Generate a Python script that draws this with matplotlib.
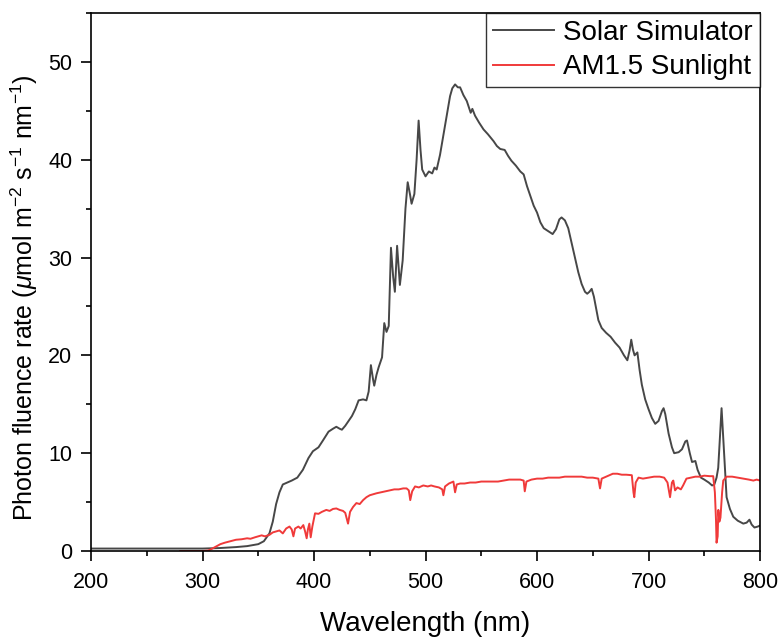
import matplotlib
matplotlib.use('Agg')
import matplotlib.pyplot as plt
from matplotlib.ticker import MultipleLocator

plt.rcParams['font.family'] = ['Liberation Sans', 'DejaVu Sans']
plt.rcParams['mathtext.fontset'] = 'custom'
plt.rcParams['mathtext.rm'] = 'Liberation Sans'
plt.rcParams['mathtext.it'] = 'Liberation Sans:italic'

# Solar simulator spectrum
sim_wl = [200, 250, 280, 300, 315, 330, 340, 350, 355, 360, 363, 366, 369, 372, 376, 380,
          385, 390, 395, 399, 404, 408, 413, 417, 420, 423, 425, 428, 431, 434, 437, 440,
          444, 447, 449, 451, 453, 454, 456, 458, 461, 463, 465, 467, 469, 471, 472.5, 474.5,
          477, 479.5, 482, 484, 486, 487.5, 490, 492, 493.8, 495.5, 497, 500, 503, 506, 508,
          510, 513, 516, 519, 522, 524, 526.5, 529, 531, 534, 537, 539, 540.5, 542, 544.4,
          548, 552, 556, 561, 564, 567, 571, 574, 577, 581, 585, 588, 591, 594, 597, 600,
          603, 606, 610, 614, 617, 620, 622, 625, 628, 631, 634, 637, 640, 643, 645, 647,
          649, 651, 653, 655, 658, 662, 666, 670, 674, 678, 681, 683, 684.5, 686, 687.5, 690,
          692, 694, 697, 700, 703, 706, 709, 712, 713.5, 715, 718, 721, 723, 727, 730, 733,
          734.5, 737, 739, 742, 744, 747, 750, 754, 757, 759, 761, 762.5, 764, 765.5, 767,
          768.5, 770, 773, 776, 780, 785, 788, 790.5, 792.5, 795, 798, 800]
sim_val = [0.25, 0.25, 0.25, 0.25, 0.3, 0.4, 0.5, 0.7, 1.0, 1.8, 3.0, 4.8, 6.0, 6.8, 7.0, 7.2,
           7.5, 8.3, 9.5, 10.2, 10.6, 11.3, 12.2, 12.5, 12.7, 12.5, 12.4, 12.8, 13.3, 13.8, 14.5, 15.4,
           15.5, 15.4, 16.3, 19.0, 17.5, 16.9, 18.0, 18.8, 19.8, 23.3, 22.4, 23.0, 31.0, 28.0, 26.5, 31.2,
           27.2, 29.7, 35.0, 37.7, 36.5, 35.5, 36.5, 40.0, 44.0, 41.0, 39.0, 38.3, 38.8, 38.6, 39.2,
           39.0, 40.5, 42.5, 44.5, 46.5, 47.3, 47.7, 47.4, 47.4, 46.6, 46.0, 45.3, 44.8, 45.2, 44.5,
           43.8, 43.1, 42.6, 41.9, 41.4, 41.1, 41.0, 40.4, 39.9, 39.4, 38.8, 38.5, 37.3, 36.3, 35.3, 34.6,
           33.6, 33.0, 32.7, 32.4, 32.9, 33.9, 34.1, 33.8, 33.0, 31.5, 30.0, 28.5, 27.3, 26.5, 26.3, 26.5,
           26.8, 26.0, 24.8, 23.6, 22.8, 22.3, 21.9, 21.3, 20.8, 20.0, 19.5, 20.5, 21.6, 20.6, 20.0, 20.3,
           18.5, 17.0, 15.5, 14.5, 13.6, 13.0, 13.3, 14.3, 14.6, 14.0, 12.0, 10.6, 10.0, 10.1, 10.4, 11.2,
           11.3, 10.0, 9.1, 9.2, 8.3, 7.5, 7.3, 7.0, 6.7, 6.8, 7.5, 8.5, 11.5, 14.6, 11.5,
           8.5, 5.5, 4.3, 3.5, 3.1, 2.8, 2.9, 3.2, 2.7, 2.4, 2.5, 2.6]

# AM1.5 sunlight spectrum
sun_wl = [280, 290, 300, 305, 308, 312, 316, 320, 325, 330, 335, 340, 343, 347, 350, 353, 356,
          360, 363, 366, 369, 372, 375, 378, 380, 381.5, 383, 386, 388, 390.4, 392, 393.4, 394.5,
          395.8, 397, 398.5, 400.9, 404, 407, 411, 414, 417, 420, 423, 426, 428, 430.5, 432.3,
          435, 438, 441, 444, 447, 450, 453, 456, 460, 464, 468, 472, 476, 480, 483, 485, 486.3,
          488, 490.6, 494, 498, 502, 505, 508, 512, 515, 516, 517.5, 521, 525, 526.5, 528, 531,
          535, 540, 545, 550, 555, 560, 565, 570, 575, 580, 585, 588, 589, 590.5, 595, 600, 605,
          610, 615, 620, 625, 630, 635, 640, 645, 650, 655, 656.5, 658, 662, 668, 672, 676, 680,
          685, 686.5, 687.2, 688.5, 691, 695, 700, 705, 710, 714, 717, 719.3, 721, 722.2, 723.8,
          726, 729, 731, 734, 738, 742, 746, 750, 755, 758, 759.5, 760.5, 761, 762, 762.6, 763.5,
          764.5, 766, 767, 770, 775, 780, 785, 790, 794, 797, 800]
sun_val = [0.0, 0.0, 0.0, 0.05, 0.2, 0.45, 0.7, 0.85, 1.0, 1.15, 1.2, 1.3, 1.25, 1.4, 1.5, 1.6, 1.5,
           1.65, 1.9, 2.0, 2.1, 1.8, 2.3, 2.5, 2.2, 1.5, 2.3, 2.5, 2.3, 2.65, 2.0, 1.3, 2.2,
           2.8, 1.4, 2.5, 3.85, 3.8, 4.0, 4.2, 4.1, 4.3, 4.35, 4.2, 4.1, 3.9, 2.8, 4.0,
           4.5, 4.9, 4.8, 5.2, 5.5, 5.7, 5.8, 5.9, 6.0, 6.1, 6.2, 6.3, 6.3, 6.4, 6.4, 6.2, 5.2,
           6.1, 6.6, 6.5, 6.7, 6.6, 6.7, 6.6, 6.5, 6.3, 5.7, 6.6, 6.9, 7.1, 6.0, 6.8, 6.9,
           6.9, 7.0, 7.0, 7.1, 7.1, 7.1, 7.1, 7.2, 7.3, 7.3, 7.3, 7.2, 6.1, 7.1, 7.3, 7.4, 7.4,
           7.5, 7.5, 7.5, 7.6, 7.6, 7.6, 7.6, 7.5, 7.5, 7.4, 6.4, 7.4, 7.6, 7.9, 7.9, 7.8, 7.8,
           7.75, 6.0, 5.5, 7.0, 7.5, 7.4, 7.5, 7.6, 7.6, 7.5, 7.0, 5.5, 7.0, 7.2, 6.2,
           6.5, 6.3, 6.7, 7.4, 7.5, 7.6, 7.6, 7.7, 7.65, 7.65, 6.0, 3.2, 0.85, 1.5, 4.2, 3.0,
           3.4, 6.0, 7.2, 7.6, 7.6, 7.5, 7.4, 7.3, 7.2, 7.3, 7.2]

fig = plt.figure(figsize=(7.8, 6.37), dpi=100)
ax = fig.add_axes([0.1167, 0.135, 0.8577, 0.8446])

ax.plot(sim_wl, sim_val, color='#474747', lw=1.4, label='Solar Simulator')
ax.plot(sun_wl, sun_val, color='#f03a3a', lw=1.4, label='AM1.5 Sunlight')

ax.set_xlim(200, 800)
ax.set_ylim(0, 55)
ax.xaxis.set_major_locator(MultipleLocator(100))
ax.xaxis.set_minor_locator(MultipleLocator(50))
ax.yaxis.set_major_locator(MultipleLocator(10))
ax.yaxis.set_minor_locator(MultipleLocator(5))
ax.tick_params(which='major', direction='out', length=7, width=1.2, labelsize=15.5)
ax.tick_params(which='minor', direction='out', length=3.5, width=1.2)
ax.tick_params(axis='x', which='major', pad=8)
ax.tick_params(axis='y', which='major', pad=6.5)
for s in ax.spines.values():
    s.set_linewidth(1.2)

ax.set_xlabel('Wavelength (nm)', fontsize=20, labelpad=13)
ax.set_ylabel(r'Photon fluence rate ($\mu$mol m$^{-2}$ s$^{-1}$ nm$^{-1}$)', fontsize=18)
ax.yaxis.set_label_coords(-0.076, 0.47)

leg = ax.legend(loc='upper right', fontsize=20, frameon=True, fancybox=False,
                borderaxespad=0, borderpad=0.25, labelspacing=0.3,
                handlelength=2.2, handletextpad=0.35)
leg.get_frame().set_edgecolor('black')
leg.get_frame().set_linewidth(1.0)

fig.savefig('out.png', dpi=100)
